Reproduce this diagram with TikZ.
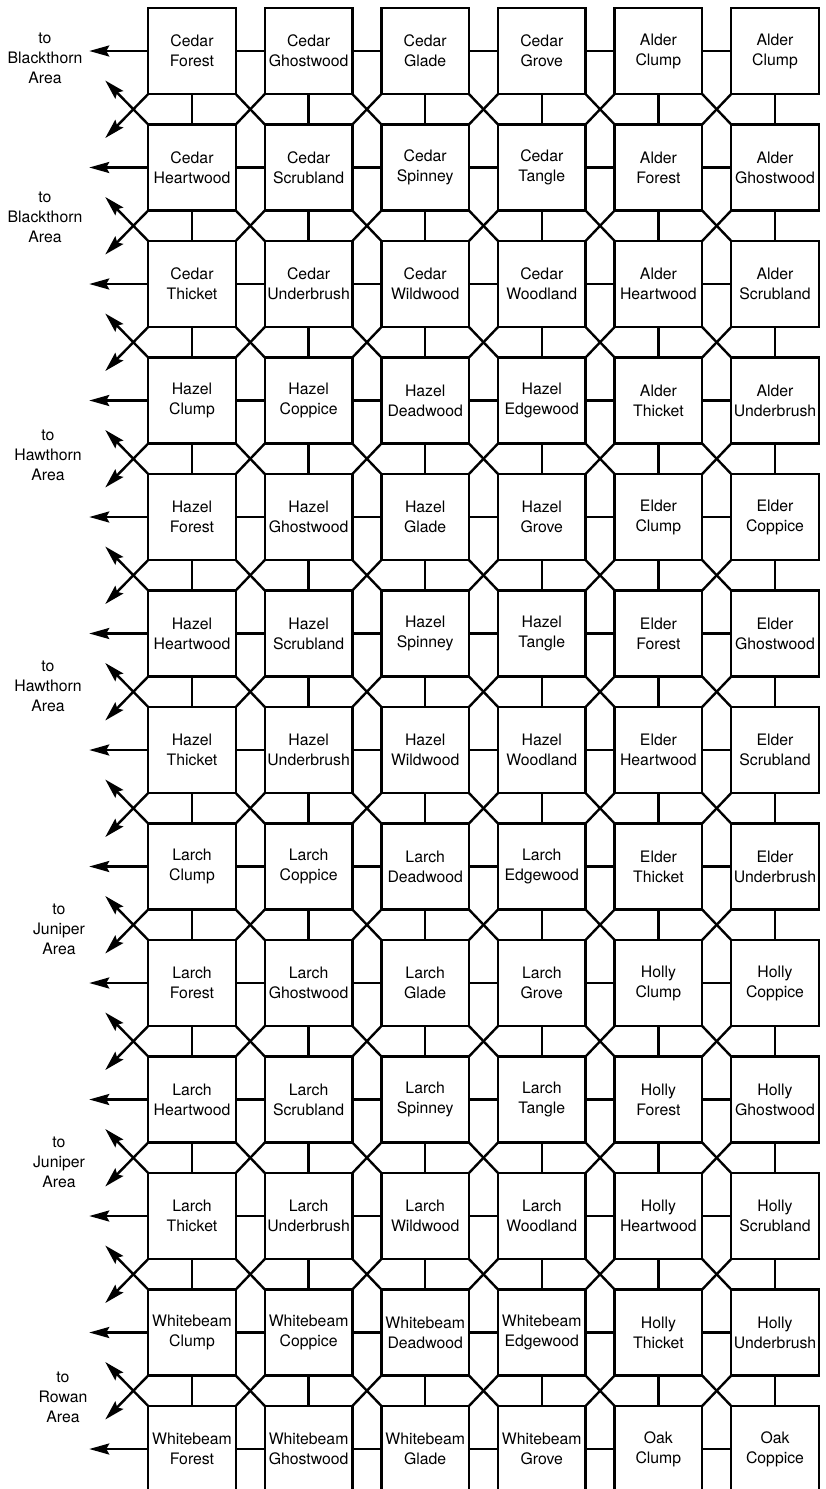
\documentclass[tikz,border=0pt]{standalone}
\usepackage{fontspec}
\setmainfont{TeX Gyre Heros}
\usetikzlibrary{arrows.meta,positioning,calc}
\newcommand{\pitchx}{116.6}
\newcommand{\pitchy}{116.5}
\tikzset{
  stand/.style={draw,line width=2.4pt,minimum width=87.5pt,minimum height=86pt,
                inner sep=0pt,outer sep=0pt,align=center,
                font=\fontsize{15.8}{20}\selectfont},
  link/.style={line width=2.4pt},
  exit/.style={link,-{Stealth[length=20pt,width=11pt,inset=3pt]}},
  area/.style={align=center,font=\fontsize{15.8}{20}\selectfont}
}

\begin{document}
\begin{tikzpicture}[x=1pt,y=1pt]
\useasboundingbox (0,0) rectangle (825,-1489);
\fill[white] (0,0) rectangle (825,-1489);
\clip (0,0) rectangle (825,-1489);
\foreach [count=\r] \row in {
  {Cedar/Forest,Cedar/Ghostwood,Cedar/Glade,Cedar/Grove,Alder/Clump,Alder/Clump},
  {Cedar/Heartwood,Cedar/Scrubland,Cedar/Spinney,Cedar/Tangle,Alder/Forest,Alder/Ghostwood},
  {Cedar/Thicket,Cedar/Underbrush,Cedar/Wildwood,Cedar/Woodland,Alder/Heartwood,Alder/Scrubland},
  {Hazel/Clump,Hazel/Coppice,Hazel/Deadwood,Hazel/Edgewood,Alder/Thicket,Alder/Underbrush},
  {Hazel/Forest,Hazel/Ghostwood,Hazel/Glade,Hazel/Grove,Elder/Clump,Elder/Coppice},
  {Hazel/Heartwood,Hazel/Scrubland,Hazel/Spinney,Hazel/Tangle,Elder/Forest,Elder/Ghostwood},
  {Hazel/Thicket,Hazel/Underbrush,Hazel/Wildwood,Hazel/Woodland,Elder/Heartwood,Elder/Scrubland},
  {Larch/Clump,Larch/Coppice,Larch/Deadwood,Larch/Edgewood,Elder/Thicket,Elder/Underbrush},
  {Larch/Forest,Larch/Ghostwood,Larch/Glade,Larch/Grove,Holly/Clump,Holly/Coppice},
  {Larch/Heartwood,Larch/Scrubland,Larch/Spinney,Larch/Tangle,Holly/Forest,Holly/Ghostwood},
  {Larch/Thicket,Larch/Underbrush,Larch/Wildwood,Larch/Woodland,Holly/Heartwood,Holly/Scrubland},
  {Whitebeam/Clump,Whitebeam/Coppice,Whitebeam/Deadwood,Whitebeam/Edgewood,Holly/Thicket,Holly/Underbrush},
  {Whitebeam/Forest,Whitebeam/Ghostwood,Whitebeam/Glade,Whitebeam/Grove,Oak/Clump,Oak/Coppice}}{
  \foreach [count=\c] \a/\b in \row
    \node[stand] (s-\r-\c) at ({192+\pitchx*(\c-1)},{-51-\pitchy*(\r-1)}) {\a\\\b};
}
% paths along each row
\foreach \r in {1,...,13}{
  \draw[exit] (s-\r-1.west) -- ++(-59,0);
  \foreach \c [evaluate=\c as \n using int(\c+1)] in {1,...,5}
    \draw[link] (s-\r-\c.east) -- (s-\r-\n.west);
}
% paths between rows
\foreach \r [evaluate=\r as \q using int(\r+1)] in {1,...,12}{
  \foreach \c in {1,...,6}
    \draw[link] (s-\r-\c.south) -- (s-\q-\c.north);
  \foreach \c [evaluate=\c as \n using int(\c+1)] in {1,...,5}{
    \draw[link] (s-\r-\c.south east) -- (s-\q-\n.north west);
    \draw[link] (s-\r-\n.south west) -- (s-\q-\c.north east);
  }
  \draw[exit] (s-\r-1.south west) -- ++(-43,-44);
  \draw[exit] (s-\q-1.north west) -- ++(-43,44);
}
\node[area] (blackthorn-a) at (45,-58.5) {to\\Blackthorn\\Area};
\node[area] (blackthorn-b) at (45,-217) {to\\Blackthorn\\Area};
\node[area] (hawthorn-a) at (48,-455) {to\\Hawthorn\\Area};
\node[area] (hawthorn-b) at (48,-686) {to\\Hawthorn\\Area};
\node[area] (juniper-a) at (59,-929) {to\\Juniper\\Area};
\node[area] (juniper-b) at (59,-1162) {to\\Juniper\\Area};
\node[area] (rowan) at (63,-1397) {to\\Rowan\\Area};
\end{tikzpicture}
\end{document}
